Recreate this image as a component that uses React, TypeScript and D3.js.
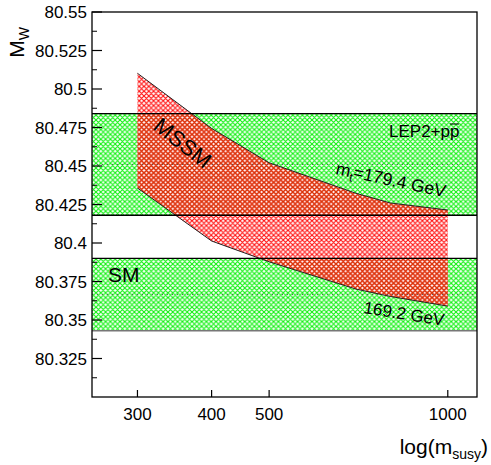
import React from "react";
import * as d3 from "d3";

// ---- data ----
const massPoints = [300, 400, 500, 700, 800, 1000];
const mwUpper = [80.5102, 80.4744, 80.4521, 80.4323, 80.426, 80.4214]; // mt = 179.4 GeV
const mwLower = [80.4357, 80.4013, 80.3878, 80.3701, 80.3653, 80.359]; // mt = 169.2 GeV
const bandNames = ["LEP2+pp̄", "SM"];
const bandCenters = [80.451, 80.3665];
const bandHalfWidths = [0.033, 0.0235];
const yTicks = [80.325, 80.35, 80.375, 80.4, 80.425, 80.45, 80.475, 80.5, 80.525, 80.55];
const yTickLabels = ["80.325", "80.35", "80.375", "80.4", "80.425", "80.45", "80.475", "80.5", "80.525", "80.55"];
const xTicks = [300, 400, 500, 1000];
const xTickLabels = ["300", "400", "500", "1000"];

const W = 491, H = 465;
const L = 92, R = 477, T = 12, B = 397;
const FONT = "'Liberation Sans', Arial, Helvetica, sans-serif";

export default function App() {
  const x = d3.scaleLog().domain([251.5, 1120]).range([L, R]);
  const y = d3.scaleLinear().domain([80.3, 80.55]).range([B, T]);

  const pts = massPoints.map((m, i) => ({ m, hi: mwUpper[i], lo: mwLower[i] }));
  const area = d3.area<any>().x((d) => x(d.m)).y0((d) => y(d.lo)).y1((d) => y(d.hi));
  const upperLine = d3.line<any>().x((d) => x(d.m)).y((d) => y(d.hi));
  const lowerLine = d3.line<any>().x((d) => x(d.m)).y((d) => y(d.lo));
  const areaPath = area(pts) || "";

  const minorY: number[] = [];
  for (let v = 80.3125; v < 80.55; v += 0.025) minorY.push(+v.toFixed(4));

  const P = 4.8;
  const hatch = (id: string, color: string) => (
    <pattern id={id} patternUnits="userSpaceOnUse" width={P} height={P}>
      <path d={`M0,0 L${P},${P} M${P},0 L0,${P} M-1,1 L1,-1 M${P - 1},${P + 1} L${P + 1},${P - 1} M-1,${P - 1} L1,${P + 1} M${P - 1},-1 L${P + 1},1`} stroke={color} strokeWidth={1.15} fill="none" />
    </pattern>
  );

  return (
    <svg width={W} height={H} style={{ position: "absolute", left: 0, top: 0 }} fontFamily={FONT}>
      <defs>
        {hatch("hGreen", "#10f010")}
        {hatch("hRed", "#ff1010")}
        {hatch("hMix", "#d43a08")}
        {bandCenters.map((c, i) => (
          <clipPath id={`bandClip${i}`} key={i}>
            <rect x={L} y={y(c + bandHalfWidths[i])} width={R - L} height={y(c - bandHalfWidths[i]) - y(c + bandHalfWidths[i])} />
          </clipPath>
        ))}
      </defs>
      <rect x={0} y={0} width={W} height={H} fill="#fff" />

      {/* green bands */}
      {bandCenters.map((c, i) => (
        <rect key={i} x={L} y={y(c + bandHalfWidths[i])} width={R - L}
          height={y(c - bandHalfWidths[i]) - y(c + bandHalfWidths[i])} fill="url(#hGreen)" />
      ))}

      {/* MSSM region */}
      <path d={areaPath} fill="#fff" />
      <path d={areaPath} fill="url(#hRed)" />
      {bandCenters.map((c, i) => (
        <path key={i} d={areaPath} fill="url(#hMix)" clipPath={`url(#bandClip${i})`} />
      ))}
      <path d={upperLine(pts) || ""} fill="none" stroke="#222" strokeWidth={1} />
      <path d={lowerLine(pts) || ""} fill="none" stroke="#222" strokeWidth={1} />

      {/* band edges and centers */}
      {bandCenters.map((c, i) => (
        <g key={i}>
          <line x1={L} x2={R} y1={y(c + bandHalfWidths[i])} y2={y(c + bandHalfWidths[i])} stroke="#000" strokeWidth={1.2} />
          <line x1={L} x2={R} y1={y(c - bandHalfWidths[i])} y2={y(c - bandHalfWidths[i])} stroke={i === 0 ? "#000" : "#777"} strokeWidth={1.4} />
          <line x1={L} x2={R} y1={y(c)} y2={y(c)} stroke="#555" strokeWidth={1} strokeDasharray="1,4" />
        </g>
      ))}

      {/* frame */}
      <rect x={L} y={T} width={R - L} height={B - T} fill="none" stroke="#000" strokeWidth={1.3} />

      {/* y ticks */}
      {yTicks.map((t, i) => (
        <g key={i}>
          <line x1={L} x2={L + 10} y1={y(t)} y2={y(t)} stroke="#000" strokeWidth={1.2} />
          <text x={87} y={y(t)} dy="0.36em" textAnchor="end" fontSize={17}>{yTickLabels[i]}</text>
        </g>
      ))}
      {minorY.map((t, i) => (
        <line key={i} x1={L} x2={L + 5} y1={y(t)} y2={y(t)} stroke="#000" strokeWidth={1} />
      ))}

      {/* x ticks */}
      {xTicks.map((t, i) => (
        <g key={i}>
          <line x1={x(t)} x2={x(t)} y1={B} y2={B - 7} stroke="#000" strokeWidth={1.2} />
          <text x={x(t)} y={420} textAnchor="middle" fontSize={17}>{xTickLabels[i]}</text>
        </g>
      ))}

      {/* axis titles */}
      <text x={488} y={454} textAnchor="end" fontSize={21}>
        log(m<tspan fontSize={14} dy={5}>susy</tspan><tspan dy={-5}>)</tspan>
      </text>
      <text transform="translate(24,27) rotate(-90)" textAnchor="end" fontSize={21}>
        M<tspan fontSize={14} dy={5}>W</tspan>
      </text>

      {/* annotations */}
      <text transform="translate(152,128.6) rotate(38)" fontSize={22}>MSSM</text>
      <text x={389} y={137} fontSize={17}>{bandNames[0].replace("p̄", "p")}</text>
      <line x1={450} x2={459} y1={124} y2={124} stroke="#000" strokeWidth={1} />
      <text transform="translate(335,174) rotate(12)" fontSize={17.5}>
        m<tspan fontSize={12} dy={4}>t</tspan><tspan dy={-4}>=179.4 GeV</tspan>
      </text>
      <text transform="translate(363,313) rotate(9)" fontSize={17}>169.2 GeV</text>
      <text x={108} y={282} fontSize={21}>{bandNames[1]}</text>
    </svg>
  );
}
